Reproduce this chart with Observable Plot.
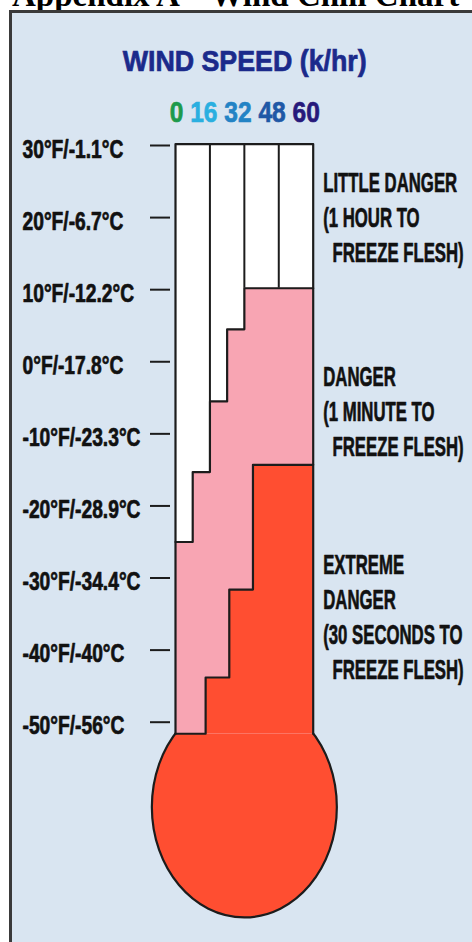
<!DOCTYPE html>
<html>
<head>
<meta charset="utf-8">
<script src="https://cdn.jsdelivr.net/npm/d3@7"></script>
<script src="https://cdn.jsdelivr.net/npm/@observablehq/plot@0.6"></script>
<style>
  html, body { margin: 0; padding: 0; background: #ffffff; }
  body { width: 472px; height: 942px; overflow: hidden; position: relative; }
  #doc-title { position: absolute; left: 12px; top: -21px; font: bold 33px/33px "Liberation Serif", "DejaVu Serif", serif; color: #000; white-space: nowrap; }
  #frame { position: absolute; left: 9px; top: 10px; width: 540px; height: 1000px; box-sizing: border-box; border: 3px solid #3a3a3a; background: #d9e5f1; }
  #chart { position: absolute; left: 0; top: 0; }
  .cap { position: absolute; left: 0; width: 490px; text-align: center; font-family: "Liberation Sans Narrow", "Liberation Sans", Arial, sans-serif; font-weight: bold; font-size: 30px; line-height: 30px; white-space: nowrap; -webkit-text-stroke: 0.7px currentColor; }
  .cap > span.inner { display: inline-block; transform-origin: 50% 50%; }
  #wind-title { top: 46px; color: #1b2a8b; }
  #wind-values { top: 97px; }
</style>
</head>
<body>
<div id="doc-title">Appendix A – Wind Chill Chart</div>
<div id="frame"></div>
<div id="chart"></div>
<div id="wind-title" class="cap"><span class="inner">WIND SPEED (k/hr)</span></div>
<div id="wind-values" class="cap"><span class="inner"></span></div>
<script>
// ---------------- data ----------------
const windSpeeds = [0, 16, 32, 48, 60];
const windColors = ["#1d9a4c", "#2aafe0", "#2383c5", "#1f58a6", "#27197b"];

const tickTempsF = [30, 20, 10, 0, -10, -20, -30, -40, -50];
const tickLabels = ["30°F/-1.1°C", "20°F/-6.7°C", "10°F/-12.2°C", "0°F/-17.8°C",
  "-10°F/-23.3°C", "-20°F/-28.9°C", "-30°F/-34.4°C", "-40°F/-40°C", "-50°F/-56°C"];

// white -> pink boundary (little danger / danger), step starts in km/h and °F
const dangerWind = [0, 8, 16, 24, 32];
const dangerTemp = [-25, -15.3, -5.5, 4.5, 10.2];
// pink -> red boundary (danger / extreme danger)
const extremeWind = [0, 14, 25, 36];
const extremeTemp = [-51.6, -43.8, -31.6, -14.3];

const tubeTopF = 30.2;
const tubeBottomF = -51.6;

const zoneLabels = [
  "LITTLE DANGER\n(1 HOUR TO\n\u00a0\u00a0FREEZE FLESH)",
  "DANGER\n(1 MINUTE TO\n\u00a0\u00a0FREEZE FLESH)",
  "EXTREME\nDANGER\n(30 SECONDS TO\n\u00a0\u00a0FREEZE FLESH)"
];
const zoneLabelY = [20.2, -6.6, -35.2];

// ---------------- styles ----------------
const FONT = '"Liberation Sans Narrow", "Liberation Sans", Arial, sans-serif';
const INK = "#1c1c1c";
const PINK = "#f8a5b3";
const RED = "#ff4e31";
const W = 472, H = 942, mL = 175, mR = 159.3, mT = 145, mB = 220.3;

// the chart gives each wind-speed interval an equal-width column
const windCol = d3.scaleLinear(windSpeeds, d3.range(windSpeeds.length));
const nCols = windSpeeds.length - 1;
const windMax = windSpeeds[nCols];

const stepPoints = (winds, temps) =>
  winds.map((w, i) => ({w, t: temps[i]})).concat([{w: windMax, t: temps[temps.length - 1]}]);
const dangerPts = stepPoints(dangerWind, dangerTemp);
const extremePts = stepPoints(extremeWind, extremeTemp);
const dangerAt = (w) => dangerTemp[d3.bisectRight(dangerWind, w) - 1];

const tubeOutline = [
  {w: windSpeeds[0], t: tubeBottomF}, {w: windSpeeds[0], t: tubeTopF},
  {w: windMax, t: tubeTopF}, {w: windMax, t: tubeBottomF}
];
const X = (d) => windCol(d.w);

const BULB_ASPECT = 1.193;
const bulbShape = {
  draw(ctx, size) {
    const rx = Math.sqrt(size / Math.PI), ry = rx * BULB_ASPECT, k = 0.5523;
    ctx.moveTo(rx, 0);
    ctx.bezierCurveTo(rx, ry * k, rx * k, ry, 0, ry);
    ctx.bezierCurveTo(-rx * k, ry, -rx, ry * k, -rx, 0);
    ctx.bezierCurveTo(-rx, -ry * k, -rx * k, -ry, 0, -ry);
    ctx.bezierCurveTo(rx * k, -ry, rx, -ry * k, rx, 0);
    ctx.closePath();
  }
};

const chart = Plot.plot({
  width: W, height: H,
  marginLeft: mL, marginRight: mR, marginTop: mT, marginBottom: mB,
  style: {background: "transparent", overflow: "visible", fontFamily: FONT},
  x: {domain: [0, nCols], axis: null},
  y: {domain: [-50, 30], axis: null},
  marks: [
    // bulb (hangs below the tube, centred on it)
    Plot.dot([{w: windSpeeds[2], t: tubeBottomF}], {x: X, y: "t", dy: 73.3, r: 92.5, symbol: bulbShape, fill: RED, stroke: INK, strokeWidth: 2.2}),
    // tube
    Plot.rect([tubeOutline], {x1: windCol(windSpeeds[0]), x2: windCol(windMax), y1: tubeBottomF, y2: tubeTopF, fill: "white"}),
    Plot.areaY(dangerPts, {x: X, y1: tubeBottomF, y2: "t", curve: "step-after", fill: PINK}),
    Plot.areaY(extremePts, {x: X, y1: tubeBottomF, y2: "t", curve: "step-after", fill: RED}),
    Plot.ruleX(windSpeeds.slice(1, -1), {x: (w) => windCol(w), y1: tubeTopF, y2: (w) => dangerAt(w), stroke: INK, strokeWidth: 2}),
    Plot.line(dangerPts, {x: X, y: "t", curve: "step-after", stroke: INK, strokeWidth: 2.2}),
    Plot.line(extremePts, {x: X, y: "t", curve: "step-after", stroke: INK, strokeWidth: 2.2}),
    Plot.line(tubeOutline, {x: X, y: "t", stroke: INK, strokeWidth: 2.2}),
    // temperature scale
    Plot.ruleY(tickTempsF, {insetLeft: -25, insetRight: 142.7, stroke: INK, strokeWidth: 2}),
    Plot.text(tickTempsF, {y: (d) => d, text: (d, i) => tickLabels[i], frameAnchor: "left", dx: -153, dy: 4,
      textAnchor: "start", fontSize: 25, fontWeight: "bold", fill: "#111", stroke: "#111", strokeWidth: 0.7}),
    // zone labels
    Plot.text(zoneLabels, {y: (d, i) => zoneLabelY[i], text: (d) => d, frameAnchor: "right", dx: 10,
      textAnchor: "start", lineAnchor: "middle", lineHeight: 1.25, fontSize: 28, fontWeight: "bold",
      fill: "#111", stroke: "#111", strokeWidth: 0.7})
  ]
});
document.getElementById("chart").appendChild(chart);

// condense text groups horizontally to match the compressed typeface
function squeeze(group, refText, target) {
  if (!group) return;
  const texts = Array.from(group.querySelectorAll("text"));
  let ref = null;
  for (const t of texts) {
    for (const el of [t, ...t.querySelectorAll("tspan")]) {
      if (!ref && el.textContent === refText) ref = el;
    }
  }
  if (!ref) return;
  const k = target / ref.getComputedTextLength();
  for (const t of texts) {
    const tr = t.getAttribute("transform");
    if (tr) t.setAttribute("transform", tr + ` scale(${k},1)`);
    else {
      const x = +t.getAttribute("x") || 0;
      t.setAttribute("transform", `translate(${x},0) scale(${k},1) translate(${-x},0)`);
    }
  }
}
const textGroups = chart.querySelectorAll('g[aria-label="text"]');
squeeze(textGroups[0], "-10°F/-23.3°C", 118);
squeeze(textGroups[1], "LITTLE DANGER", 134);

// header rows
const valuesInner = document.querySelector("#wind-values .inner");
windSpeeds.forEach((w, i) => {
  if (i) valuesInner.appendChild(document.createTextNode(" "));
  const s = document.createElement("span");
  s.textContent = w;
  s.style.color = windColors[i];
  valuesInner.appendChild(s);
});
function fitHtml(el, target) {
  const w = el.getBoundingClientRect().width;
  if (w > 0) el.style.transform = `scaleX(${target / w})`;
}
fitHtml(document.querySelector("#wind-title .inner"), 244);
fitHtml(valuesInner, 150);
</script>
</body>
</html>
